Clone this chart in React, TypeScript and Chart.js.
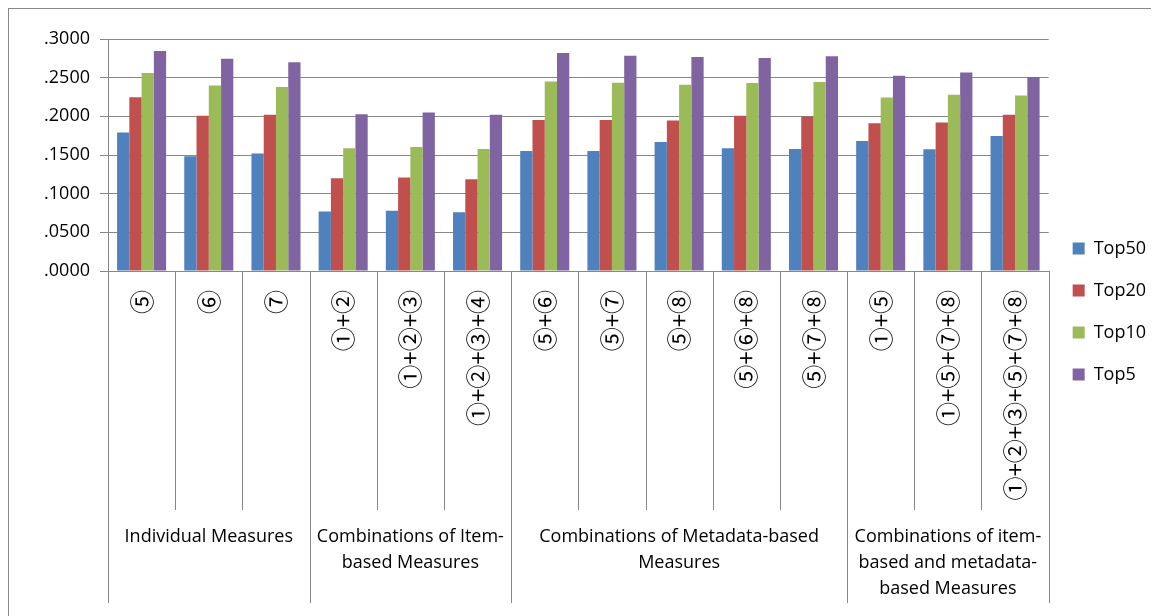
import { useEffect, useRef } from "react";
import { Chart, registerables } from "chart.js";
Chart.register(...registerables);

const categories = [
  "⑤", "⑥", "⑦",
  "①+②", "①+②+③", "①+②+③+④",
  "⑤+⑥", "⑤+⑦", "⑤+⑧", "⑤+⑥+⑧", "⑤+⑦+⑧",
  "①+⑤", "①+⑤+⑦+⑧", "①+②+③+⑤+⑦+⑧",
];
const groupLabels = [
  ["Individual Measures"],
  ["Combinations of Item-", "based Measures"],
  ["Combinations of Metadata-based", "Measures"],
  ["Combinations of item-", "based and metadata-", "based Measures"],
];
const groupSizes = [3, 3, 5, 3];
const seriesNames = ["Top50", "Top20", "Top10", "Top5"];
const top50 = [0.179, 0.1483, 0.1518, 0.077, 0.0778, 0.0761, 0.1552, 0.1552, 0.1669, 0.1587, 0.1578, 0.1682, 0.1574, 0.1747];
const top20 = [0.2248, 0.2006, 0.2019, 0.1198, 0.121, 0.1185, 0.1954, 0.1954, 0.1946, 0.2006, 0.1997, 0.1911, 0.192, 0.2019];
const top10 = [0.256, 0.240, 0.2378, 0.1587, 0.1604, 0.1578, 0.2451, 0.2434, 0.2408, 0.243, 0.2443, 0.2244, 0.2278, 0.227];
const top5 = [0.2845, 0.2745, 0.2698, 0.2028, 0.2049, 0.2019, 0.2819, 0.2784, 0.2767, 0.2754, 0.2776, 0.2525, 0.2568, 0.2508];
const yMin = 0;
const yMax = 0.3;
const yStep = 0.05;

const colors = ["#4F81BD", "#C0504D", "#9BBB59", "#8064A2"];
const GRID = "#878787";
const TEXT_FONT = "'Open Sans', 'Noto Sans CJK JP', sans-serif";

const groupPlugin = {
  id: "groupPlugin",
  afterDraw(chart: any) {
    const ctx = chart.ctx;
    const x = chart.scales.x;
    const area = chart.chartArea;
    const bottom = x.bottom;
    const shortBottom = bottom - 93;
    const groupStarts = new Set<number>();
    let acc = 0;
    groupStarts.add(0);
    groupSizes.forEach((s) => { acc += s; groupStarts.add(acc); });
    ctx.save();
    ctx.strokeStyle = GRID;
    ctx.lineWidth = 1;
    for (let i = 0; i <= categories.length; i++) {
      const px = Math.round(x.getPixelForValue(i - 0.5)) + 0.5;
      ctx.beginPath();
      ctx.moveTo(px, area.bottom);
      ctx.lineTo(px, groupStarts.has(i) ? bottom : shortBottom);
      ctx.stroke();
    }
    ctx.fillStyle = "#000";
    ctx.font = "18px " + TEXT_FONT;
    ctx.textAlign = "center";
    ctx.textBaseline = "middle";
    let start = 0;
    groupSizes.forEach((s, g) => {
      const left = x.getPixelForValue(start - 0.5);
      const right = x.getPixelForValue(start + s - 0.5);
      const cx = (left + right) / 2;
      groupLabels[g].forEach((line, li) => {
        ctx.fillText(line, cx, shortBottom + 27 + li * 26);
      });
      start += s;
    });
    ctx.restore();
  },
};

export default function App() {
  const ref = useRef<HTMLCanvasElement>(null);
  useEffect(() => {
    if (!ref.current) return;
    const series = [top50, top20, top10, top5];
    const chart = new Chart(ref.current, {
      type: "bar",
      data: {
        labels: categories,
        datasets: series.map((d, i) => ({
          label: seriesNames[i],
          data: d,
          backgroundColor: colors[i],
          borderWidth: 0,
          barPercentage: 1,
          categoryPercentage: 0.73,
        })),
      },
      options: {
        responsive: false,
        animation: false,
        layout: { padding: { top: 30, bottom: 13, left: 0, right: 3 } },
        plugins: {
          legend: {
            position: "right",
            align: "start",
            title: { display: true, text: "", padding: { top: 0, bottom: 162 } },
            labels: {
              boxWidth: 12,
              boxHeight: 12,
              padding: 24,
              color: "#000",
              font: { family: TEXT_FONT, size: 18 },
            },
          },
          tooltip: { enabled: false },
        },
        scales: {
          x: {
            grid: { display: false },
            border: { display: true, color: GRID },
            afterFit: (s: any) => { s.height = 332; },
            ticks: {
              autoSkip: false,
              maxRotation: 90,
              minRotation: 90,
              padding: 11,
              color: "#000",
              font: { family: "'Noto Sans CJK JP', sans-serif", size: 24 },
            },
          },
          y: {
            min: yMin,
            max: yMax,
            afterFit: (s: any) => { s.width = 99; },
            grid: { color: GRID, tickLength: 8, drawTicks: true },
            border: { display: true, color: GRID },
            ticks: {
              stepSize: yStep,
              padding: 10,
              color: "#000",
              font: { family: TEXT_FONT, size: 18 },
              callback: (v: any) => Number(v).toFixed(4).replace(/^0/, ""),
            },
          },
        },
      },
      plugins: [groupPlugin],
    });
    return () => chart.destroy();
  }, []);
  return (
    <div
      style={{
        width: 1151,
        height: 608,
        boxSizing: "border-box",
        borderTop: "1px solid #888",
        borderLeft: "1px solid #888",
        overflow: "hidden",
      }}
    >
      <canvas ref={ref} width={1150} height={607} style={{ display: "block" }} />
    </div>
  );
}
